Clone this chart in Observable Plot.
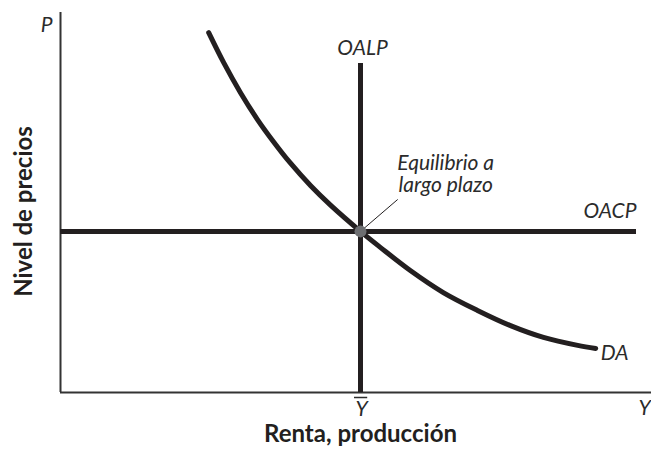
<!DOCTYPE html>
<html>
<head>
<meta charset="utf-8">
<script src="https://cdn.jsdelivr.net/npm/d3@7"></script>
<script src="https://cdn.jsdelivr.net/npm/@observablehq/plot@0.6"></script>
<style>
  html, body { margin: 0; padding: 0; background: #fff; }
  #chart svg { display: block; }
</style>
</head>
<body>
<div id="chart"></div>
<script>
// Long-run equilibrium values (abstract units)
const yBar = 5;          // potential output Ȳ
const pEq = 4.24;        // price level at equilibrium
const oalpTop = 8.66;    // top of the OALP line
const oacpEnd = 9.6;     // right end of the OACP line
const xAxisEnd = 9.85;
const yAxisEnd = 10;

// Aggregate demand (DA) curve
const daX = [2.47, 2.72, 3.0, 3.28, 3.55, 3.83, 4.17, 4.5, 5.0, 5.33, 5.83, 6.38, 6.95, 7.5, 8.05, 8.62, 8.92];
const daY = [9.47, 8.68, 7.89, 7.19, 6.6, 6.04, 5.44, 4.93, 4.24, 3.82, 3.21, 2.63, 2.16, 1.76, 1.45, 1.24, 1.16];

// Annotation leader end point
const leaderEnd = {x: 5.62, y: 5.08};

// Text labels
const eqLabel = "Equilibrio a\nlargo plazo";
const xTitle = "Renta, producción";
const yTitle = "Nivel de precios";

const da = daX.map((x, i) => ({x, y: daY[i]}));
const ink = "#231f20";
const txt = "#2b2b2b";
const italic = {fontFamily: "Lato", fontStyle: "italic", fill: txt, fontSize: 21};
const barHalf = 0.1; // half width of the bar over Ȳ

const plot = Plot.plot({
  width: 651,
  height: 453,
  marginLeft: 60,
  marginRight: 51,
  marginTop: 12,
  marginBottom: 61,
  x: {domain: [0, 9], axis: null},
  y: {domain: [0, 10], axis: null},
  style: {fontFamily: "Lato", background: "#fff"},
  marks: [
    // axes
    Plot.ruleX([0], {y1: 0, y2: yAxisEnd, stroke: "#333", strokeWidth: 2}),
    Plot.ruleY([0], {x1: 0, x2: xAxisEnd, stroke: "#333", strokeWidth: 2}),
    // OACP and OALP
    Plot.ruleY([pEq], {x1: 0, x2: oacpEnd, stroke: ink, strokeWidth: 5}),
    Plot.ruleX([yBar], {y1: 0, y2: oalpTop, stroke: ink, strokeWidth: 5}),
    // DA curve
    Plot.line(da, {x: "x", y: "y", curve: "catmull-rom", stroke: ink, strokeWidth: 5}),
    // leader line and equilibrium point
    Plot.link([0], {x1: () => yBar, y1: () => pEq, x2: () => leaderEnd.x, y2: () => leaderEnd.y, stroke: ink, strokeWidth: 1}),
    Plot.dot([0], {x: () => yBar, y: () => pEq, r: 6, fill: "#6d6e71", stroke: "none"}),
    // labels
    Plot.text(["OALP"], {x: () => yBar, y: () => oalpTop, text: d => d, textAnchor: "middle", lineAnchor: "bottom", dy: -8, dx: 2, ...italic}),
    Plot.text(["OACP"], {x: () => oacpEnd, y: () => pEq, text: d => d, textAnchor: "end", lineAnchor: "bottom", dy: -13, ...italic}),
    Plot.text(["DA"], {x: () => daX[daX.length - 1], y: () => daY[daY.length - 1], text: d => d, textAnchor: "start", lineAnchor: "bottom", dx: 5, dy: 12, ...italic}),
    Plot.text([eqLabel], {x: () => leaderEnd.x, y: () => leaderEnd.y, text: d => d, textAnchor: "middle", lineAnchor: "bottom", lineHeight: 1.07, dx: 48, dy: -7, ...italic}),
    Plot.text(["P"], {x: () => 0, y: () => yAxisEnd, text: d => d, textAnchor: "end", lineAnchor: "bottom", dx: -8, dy: 19, ...italic}),
    Plot.text(["Y"], {x: () => xAxisEnd, y: () => 0, text: d => d, textAnchor: "start", lineAnchor: "bottom", dx: -13, dy: 22, ...italic}),
    // Ȳ: letter plus its bar
    Plot.text(["Y"], {x: () => yBar, y: () => 0, text: d => d, textAnchor: "middle", lineAnchor: "bottom", dx: 1, dy: 23, ...italic}),
    Plot.ruleY([0], {x1: yBar - barHalf, x2: yBar + barHalf + 0.02, dy: 5, stroke: txt, strokeWidth: 1.5}),
    Plot.text([xTitle], {frameAnchor: "bottom", text: d => d, textAnchor: "middle", lineAnchor: "bottom", dx: 30, dy: 49, fontFamily: "Lato", fontWeight: "bold", fontSize: 24, fill: ink}),
    Plot.text([yTitle], {frameAnchor: "left", text: d => d, textAnchor: "middle", rotate: -90, lineAnchor: "bottom", dx: -29, dy: 9, fontFamily: "Lato", fontWeight: "bold", fontSize: 24, fill: ink})
  ]
});
document.getElementById("chart").appendChild(plot);
</script>
</body>
</html>
